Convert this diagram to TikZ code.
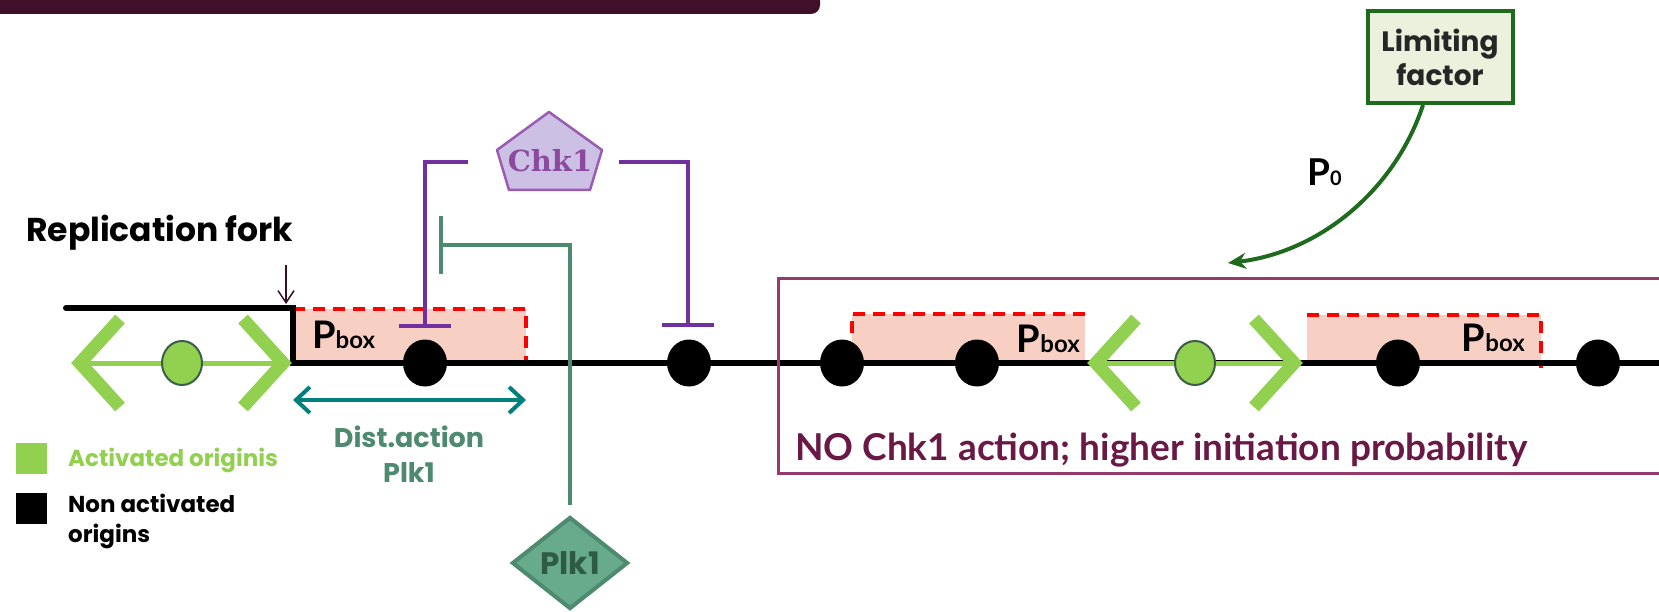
\documentclass[tikz,border=0pt]{standalone}
\usepackage{fontspec}
\setmainfont{Poppins}
\newfontfamily\gill{Lato}
\newfontfamily\camb{DejaVu Serif}
\usetikzlibrary{arrows.meta,shapes.geometric}
\definecolor{barcol}{HTML}{40102A}
\definecolor{ogreen}{HTML}{92D050}
\definecolor{odgreen}{HTML}{3B5E48}
\definecolor{pinkfill}{HTML}{F8CFC3}
\definecolor{chkpurple}{HTML}{7030A0}
\definecolor{chkfill}{HTML}{CCC0E4}
\definecolor{chkline}{HTML}{9A5CB0}
\definecolor{chktext}{HTML}{8B4A9E}
\definecolor{plkline}{HTML}{4E8A70}
\definecolor{plkfill}{HTML}{68AA8C}
\definecolor{plktext}{HTML}{2E5A46}
\definecolor{distcol}{HTML}{00807C}
\definecolor{limfill}{HTML}{EBF1DD}
\definecolor{limline}{HTML}{1E6B1E}
\definecolor{boxcol}{HTML}{943A6C}
\definecolor{notext}{HTML}{6A1846}
\definecolor{forkcol}{HTML}{3A1028}
\newcommand\PboxLabel{{\gill\bfseries\fontsize{38}{38}\selectfont P\fontsize{24}{24}\selectfont box}}
\tikzset{
  dna/.style={line width=6pt, black, line join=miter},
  blackdot/.style={ellipse, fill=black, inner sep=0pt, minimum width=44pt, minimum height=47pt},
  greendot/.style={ellipse, fill=ogreen, draw=odgreen, line width=2pt, inner sep=0pt, minimum width=40pt, minimum height=44pt},
  chev/.style={ogreen, line width=13pt, line join=miter},
  shaft/.style={ogreen, line width=5pt},
  reddash/.style={red, line width=3.5pt, dash pattern=on 12pt off 8pt},
  chkinh/.style={chkpurple, line width=4pt, -{Bar[width=52pt]}},
  plkinh/.style={plkline, line width=4pt, -{Bar[width=58pt]}},
  lbl/.style={inner sep=0pt, font=\bfseries},
}
\begin{document}
\begin{tikzpicture}[x=1pt,y=-1pt]
\useasboundingbox (0,0) rectangle (1659,612);
% top bar
\fill[barcol, rounded corners=9pt] (-20,-20) rectangle (820,14);
% P boxes
\fill[pinkfill] (293,309) rectangle (526,363);
\draw[reddash] (293,309) -- (526,309) -- (526,363);
\fill[pinkfill] (852,314) rectangle (1085,363);
\draw[reddash] (852,333) -- (852,314) -- (1085,314);
\fill[pinkfill] (1307,315) rectangle (1541,363);
\draw[reddash] (1307,315) -- (1541,315) -- (1541,368);
% DNA
\draw[dna] (66,308) -- (293,308) -- (293,363) -- (1680,363);
\fill (66,308) circle (3pt);
% origins
\node[blackdot] (n1) at (425,363) {};
\node[blackdot] (n2) at (689,363) {};
\node[blackdot] (n3) at (842,363) {};
\node[blackdot] (n4) at (977,363) {};
\node[blackdot] (n5) at (1398,363) {};
\node[blackdot] (n6) at (1598,363) {};
% fork activated origins
\coordinate (aL) at (80,363);
\coordinate (aR) at (283,363);
\node[greendot] (o1) at (182,363) {};
\draw[shaft] (aL) -- (o1) (o1) -- (aR);
\draw[chev] ([shift={(40,-44)}]aL) -- (aL) -- ([shift={(40,44)}]aL);
\draw[chev] ([shift={(-40,-44)}]aR) -- (aR) -- ([shift={(-40,44)}]aR);
\coordinate (bL) at (1096,363);
\coordinate (bR) at (1294,363);
\node[greendot] (o2) at (1195,363) {};
\draw[shaft] (bL) -- (o2) (o2) -- (bR);
\draw[chev] ([shift={(40,-44)}]bL) -- (bL) -- ([shift={(40,44)}]bL);
\draw[chev] ([shift={(-40,-44)}]bR) -- (bR) -- ([shift={(-40,44)}]bR);
% Pbox labels
\node[inner sep=0pt, anchor=base west] (pb1) at (312,348) {\PboxLabel};
\node[inner sep=0pt, anchor=base east] (pb2) at (1080,352) {\PboxLabel};
\node[inner sep=0pt, anchor=base east] (pb3) at (1525,351) {\PboxLabel};
% replication fork
\node[lbl, anchor=base west, font=\bfseries\fontsize{33}{33}\selectfont] (rf) at (26,242) {Replication fork};
\coordinate (rfa) at (286,265);
\coordinate (rfb) at (286,304);
\draw[forkcol, line width=1.5pt, -{Straight Barb[length=12pt,width=16pt]}] (rfa) -- (rfb);
% Chk1
\draw[fill=chkfill, draw=chkline, line width=2.5pt, line join=round] (549,112) -- (602,150) -- (590,190) -- (509,190) -- (497,150) -- cycle;
\node[inner sep=0pt, text=chktext, font=\camb\bfseries\fontsize{29}{29}\selectfont] (chk) at (550,161) {Chk1};
\coordinate (cl) at (468,162);
\coordinate (cr) at (619,162);
\draw[chkinh] (cl) -| (425,328);
\draw[chkinh] (cr) -| (688,327);
% Plk1
\node[diamond, aspect=1.26, minimum width=116pt, minimum height=92pt, inner sep=0pt, fill=plkfill, draw=plkline, line width=4pt, text=plktext, font=\bfseries\fontsize{31}{31}\selectfont] (plk) at (570,563) {Plk1};
\draw[plkinh, shorten <=10pt] (plk.north) |- (439,245);
% distance of action
\coordinate (dA) at (293,400);
\coordinate (dB) at (526,400);
\draw[distcol, line width=4pt, {Straight Barb[length=14pt,width=26pt]}-{Straight Barb[length=14pt,width=26pt]}] (dA) -- (dB);
\node[lbl, text=plkline, align=center, font=\bfseries\fontsize{27}{35}\selectfont] (dist) at (409,454) {Dist.action\\Plk1};
% legend
\node[fill=ogreen, minimum size=31pt, inner sep=0pt] (lg1) at (31,458) {};
\node[fill=black, minimum size=31pt, inner sep=0pt] (lg2) at (31,508) {};
\node[lbl, text=ogreen, anchor=west, font=\bfseries\fontsize{23}{23}\selectfont] (lt1) at (68,460) {Activated originis};
\node[lbl, anchor=north west, align=left, font=\bfseries\fontsize{23}{30}\selectfont] (lt2) at (68,494) {Non activated\\origins};
% limiting factor
\node[draw=limline, fill=limfill, line width=4pt, minimum width=145pt, minimum height=92pt, align=center, inner sep=0pt, text=black!85, font=\bfseries\fontsize{28}{34}\selectfont] (lim) at (1440,57) {Limiting\\factor};
\coordinate (p0tip) at (1228,263);
\draw[limline, line width=4pt, -{Stealth[length=18pt,width=16pt]}] ([xshift=-17pt]lim.south) .. controls (1395,190) and (1320,252) .. (p0tip);
\node[inner sep=0pt, anchor=base west] (p0) at (1307,186) {\gill\bfseries\fontsize{37}{37}\selectfont P\fontsize{20}{20}\selectfont 0};
% no chk1 region
\draw[boxcol, line width=3pt] (778,279) rectangle (1690,473);
\node[inner sep=0pt, anchor=base west, text=notext, font=\gill\bfseries\fontsize{37}{37}\selectfont] (nochk) at (795,460) {NO Chk1 action; higher initiation probability};
\end{tikzpicture}
\end{document}
